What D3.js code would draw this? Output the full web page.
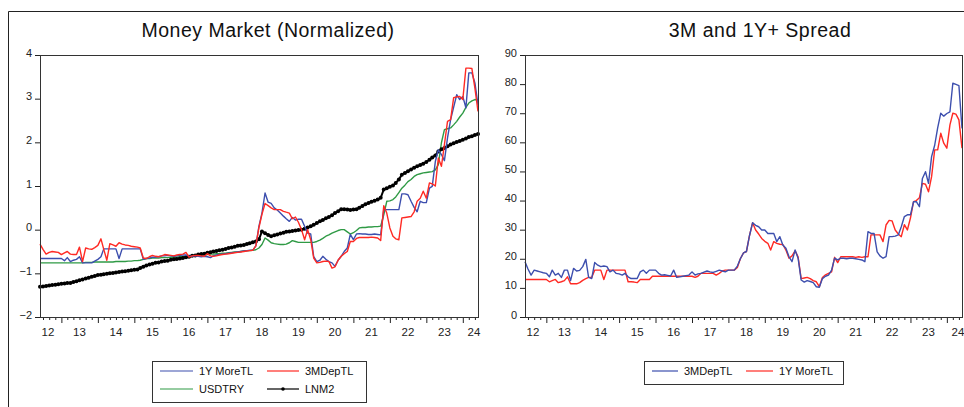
<!DOCTYPE html>
<html>
<head>
<meta charset="utf-8">
<script src="https://cdn.jsdelivr.net/npm/d3@7"></script>
<style>
  body { margin: 0; background: #fff; }
  svg { display: block; font-family: Arial, 'Liberation Sans', sans-serif; }
</style>
</head>
<body>
<div id="graf"></div>
<script>
// monthly observations, 2012M06 .. 2024M06
const dates = d3.timeMonth.range(new Date(2012, 5, 1), new Date(2024, 6, 1))
const yearLabels = ['12', '13', '14', '15', '16', '17', '18', '19', '20', '21', '22', '23', '24']

// ---- left panel: Money Market (Normalized)
const oneYMore = [
  -0.66, -0.66, -0.66, -0.66, -0.66, -0.66, -0.66,
  -0.66, -0.71, -0.64, -0.73, -0.70, -0.68, -0.62, -0.76, -0.76, -0.76, -0.76, -0.72,
  -0.68, -0.62, -0.44, -0.44, -0.44, -0.44, -0.44, -0.66, -0.44, -0.44, -0.44, -0.44,
  -0.44, -0.44, -0.44, -0.68, -0.66, -0.65, -0.63, -0.63, -0.62, -0.60, -0.60, -0.59,
  -0.60, -0.61, -0.60, -0.59, -0.58, -0.58, -0.60, -0.61, -0.60, -0.61, -0.62, -0.61,
  -0.62, -0.64, -0.60, -0.58, -0.57, -0.56, -0.55, -0.54, -0.53, -0.52, -0.51, -0.50,
  -0.49, -0.48, -0.47, -0.47, -0.37, 0.08, 0.38, 0.84, 0.63, 0.60, 0.50, 0.45,
  0.38, 0.31, 0.25, 0.19, 0.28, 0.22, 0.24, 0.24, 0.08, -0.08, -0.10, -0.62,
  -0.73, -0.70, -0.61, -0.68, -0.73, -0.76, -0.84, -0.70, -0.61, -0.50, -0.42, -0.11,
  -0.23, -0.10, -0.09, -0.10, -0.10, -0.11, -0.11, -0.10, -0.11, -0.12, 0.46, 0.46,
  0.46, 0.46, 0.46, 0.46, 0.82, 0.82, 0.80, 0.65, 0.51, 0.41, 0.65, 0.62,
  0.62, 0.95, 0.99, 1.56, 1.83, 1.72, 1.58, 2.10, 2.52, 2.80, 3.09, 2.98,
  3.05, 2.79, 3.59, 3.59, 3.36, 2.86
]
const threeMDep = [
  -0.33, -0.45, -0.56, -0.52, -0.50, -0.51, -0.52,
  -0.57, -0.53, -0.50, -0.56, -0.57, -0.57, -0.40, -0.73, -0.42, -0.44, -0.45, -0.41,
  -0.36, -0.21, -0.45, -0.70, -0.32, -0.35, -0.38, -0.30, -0.33, -0.35, -0.36, -0.38,
  -0.39, -0.40, -0.42, -0.65, -0.66, -0.62, -0.59, -0.61, -0.62, -0.60, -0.57, -0.58,
  -0.59, -0.60, -0.58, -0.57, -0.56, -0.52, -0.63, -0.60, -0.59, -0.59, -0.60, -0.61,
  -0.55, -0.60, -0.61, -0.60, -0.58, -0.57, -0.56, -0.55, -0.54, -0.53, -0.52, -0.51,
  -0.50, -0.49, -0.48, -0.47, -0.37, 0.05, 0.35, 0.60, 0.55, 0.50, 0.46, 0.46,
  0.46, 0.42, 0.40, 0.38, 0.25, 0.29, 0.17, 0.00, -0.23, 0.00, -0.23, -0.65,
  -0.76, -0.75, -0.73, -0.72, -0.73, -0.88, -0.85, -0.70, -0.61, -0.55, -0.50, -0.27,
  -0.27, -0.20, -0.18, -0.18, -0.18, -0.18, -0.17, -0.18, -0.19, -0.25, 0.55, 0.38,
  0.04, -0.15, -0.21, -0.23, 0.27, 0.28, 0.29, 0.30, 0.41, 0.65, 0.72, 0.88,
  0.72, 1.07, 1.05, 1.00, 1.64, 1.45, 1.95, 2.48, 2.52, 3.02, 3.04, 3.05,
  2.98, 3.70, 3.70, 3.69, 3.24, 2.71
]
const usdtry = [
  -0.76, -0.76, -0.76, -0.76, -0.76, -0.76, -0.76,
  -0.76, -0.76, -0.76, -0.76, -0.76, -0.76, -0.76, -0.76, -0.75, -0.75, -0.75, -0.74,
  -0.74, -0.74, -0.74, -0.74, -0.74, -0.74, -0.73, -0.73, -0.73, -0.73, -0.72, -0.72,
  -0.71, -0.71, -0.70, -0.68, -0.66, -0.66, -0.65, -0.65, -0.65, -0.64, -0.64, -0.64,
  -0.63, -0.63, -0.63, -0.62, -0.62, -0.62, -0.61, -0.60, -0.60, -0.59, -0.59, -0.58,
  -0.57, -0.56, -0.56, -0.55, -0.55, -0.54, -0.54, -0.53, -0.52, -0.51, -0.51, -0.50,
  -0.49, -0.48, -0.48, -0.47, -0.46, -0.42, -0.34, -0.19, -0.24, -0.30, -0.32, -0.33,
  -0.34, -0.34, -0.33, -0.30, -0.25, -0.27, -0.29, -0.29, -0.29, -0.29, -0.29, -0.29,
  -0.27, -0.24, -0.20, -0.15, -0.12, -0.08, -0.05, -0.02, 0.00, 0.00, -0.05, -0.10,
  -0.07, -0.02, 0.04, 0.05, 0.05, 0.06, 0.06, 0.07, 0.07, 0.08, 0.34, 0.65,
  0.66, 0.69, 0.75, 0.85, 0.95, 1.02, 1.10, 1.15, 1.22, 1.26, 1.28, 1.30,
  1.31, 1.32, 1.33, 1.37, 1.49, 1.99, 2.29, 2.31, 2.33, 2.40, 2.48, 2.58,
  2.67, 2.80, 2.90, 2.95, 2.98, 2.97
]
const lnm2 = [
  -1.31, -1.30, -1.29, -1.28, -1.27, -1.26, -1.25,
  -1.24, -1.23, -1.22, -1.22, -1.20, -1.18, -1.16, -1.14, -1.12, -1.10, -1.08, -1.06,
  -1.04, -1.03, -1.02, -1.01, -1.00, -0.99, -0.98, -0.97, -0.96, -0.95, -0.94, -0.93,
  -0.92, -0.91, -0.88, -0.85, -0.82, -0.80, -0.78, -0.76, -0.75, -0.73, -0.72, -0.71,
  -0.69, -0.68, -0.67, -0.66, -0.65, -0.63, -0.62, -0.60, -0.59, -0.57, -0.56, -0.55,
  -0.53, -0.52, -0.50, -0.49, -0.47, -0.46, -0.44, -0.42, -0.41, -0.39, -0.37, -0.36,
  -0.35, -0.33, -0.31, -0.29, -0.27, -0.22, -0.04, -0.08, -0.12, -0.15, -0.13, -0.11,
  -0.09, -0.07, -0.05, -0.04, -0.03, -0.02, -0.01, 0.00, 0.02, 0.05, 0.08, 0.11,
  0.15, 0.19, 0.22, 0.26, 0.29, 0.33, 0.38, 0.42, 0.47, 0.47, 0.46, 0.45,
  0.46, 0.47, 0.50, 0.54, 0.58, 0.61, 0.64, 0.66, 0.69, 0.73, 0.92, 0.95,
  0.98, 1.01, 1.07, 1.15, 1.26, 1.30, 1.34, 1.38, 1.42, 1.45, 1.48, 1.51,
  1.55, 1.60, 1.65, 1.70, 1.79, 1.84, 1.87, 1.91, 1.95, 1.98, 2.01, 2.03,
  2.06, 2.09, 2.12, 2.14, 2.17, 2.19
]

// ---- right panel: 3M and 1Y+ Spread
const spread3M = [
  19.0, 16.5, 14.4, 16.1, 15.8, 15.5, 15.2,
  15.0, 13.8, 16.1, 14.4, 15.0, 13.6, 16.1, 16.1, 12.5, 16.7, 15.8, 16.0,
  17.3, 19.8, 13.6, 13.2, 18.7, 17.8, 17.3, 17.5, 17.3, 15.5, 16.1, 15.0,
  14.8, 14.4, 15.0, 13.8, 13.2, 13.2, 13.2, 15.5, 16.1, 15.0, 16.1, 16.1,
  16.1, 15.0, 14.4, 14.5, 14.3, 14.1, 16.1, 13.6, 13.8, 14.0, 14.2, 14.4,
  15.5, 14.4, 14.8, 15.0, 15.4, 15.8, 15.5, 15.3, 15.7, 16.1, 15.8, 15.5,
  16.1, 16.1, 16.1, 17.5, 20.0, 22.0, 22.5, 28.0, 32.4, 31.5, 31.0, 29.9,
  29.9, 28.7, 28.7, 28.7, 25.9, 27.6, 24.7, 23.6, 20.7, 19.0, 23.0, 20.2,
  12.7, 12.0, 12.5, 12.2, 11.8, 10.4, 10.2, 13.2, 14.0, 14.4, 16.1, 20.2,
  19.6, 20.2, 20.2, 20.0, 20.2, 20.2, 20.0, 19.8, 19.6, 19.0, 29.3, 28.7,
  28.7, 22.4, 21.0, 20.2, 20.7, 27.6, 27.6, 27.8, 28.2, 31.0, 34.5, 35.1,
  35.1, 39.6, 39.6, 37.9, 47.6, 49.9, 45.9, 55.1, 59.0, 65.0, 70.0, 69.0,
  69.9, 70.5, 80.3, 79.9, 79.5, 64.8
]
const spread1Y = [
  12.9, 12.9, 12.9, 12.9, 12.9, 12.9, 12.9,
  12.9, 12.1, 12.5, 12.9, 11.8, 12.1, 12.5, 13.8, 11.4, 11.4, 11.4, 11.8,
  12.6, 13.2, 13.6, 13.6, 16.1, 16.1, 16.1, 12.9, 16.1, 16.1, 16.1, 16.1,
  16.1, 16.1, 16.1, 12.1, 12.1, 12.0, 11.8, 12.9, 12.9, 12.9, 12.9, 14.0,
  14.0, 14.0, 14.0, 14.0, 14.0, 14.0, 14.0, 14.0, 14.0, 14.0, 14.0, 14.0,
  14.0, 13.6, 14.0, 15.0, 15.0, 15.0, 15.0, 15.0, 14.4, 15.0, 15.8, 16.1,
  16.1, 16.1, 16.1, 17.0, 20.0, 22.0, 22.5, 28.0, 32.4, 29.9, 28.5, 27.0,
  26.0, 25.3, 23.0, 25.9, 25.3, 25.0, 24.9, 23.0, 20.2, 21.0, 22.7, 20.7,
  13.2, 13.4, 13.6, 13.2, 12.5, 12.1, 10.4, 13.6, 14.5, 15.0, 15.5, 20.5,
  18.7, 20.7, 20.7, 20.7, 20.7, 20.7, 20.5, 20.7, 20.5, 20.7, 20.7, 28.2,
  28.2, 28.2, 28.2, 25.9, 31.6, 33.2, 33.0, 29.9, 28.5, 27.6, 31.7, 29.9,
  34.0, 39.6, 40.0, 41.0, 45.9, 45.6, 43.0, 48.2, 57.4, 57.4, 63.1, 59.7,
  58.0, 66.0, 70.0, 69.7, 67.7, 58.0
]

const blue = '#3d4fae'
const red = '#ff2a24'
const green = '#2f9a45'

const anchoTotal = 964
const altoTotal = 407

const svg = d3.select('#graf')
  .append('svg')
  .attr('width', anchoTotal)
  .attr('height', altoTotal)

// outer frame of the figure
svg.append('path')
  .attr('d', 'M8.5,407 V11.5 H964')
  .attr('fill', 'none')
  .attr('stroke', '#222')
  .attr('stroke-width', 1)

function panel(cfg) {
  const x = d3.scaleTime()
    .domain([dates[0], dates[dates.length - 1]])
    .range([cfg.x0, cfg.x1])
  const y = d3.scaleLinear()
    .domain(cfg.domain)
    .range([cfg.y1, cfg.y0])

  const g = svg.append('g')

  // title
  g.append('text')
    .attr('x', cfg.titleX)
    .attr('y', 37)
    .attr('text-anchor', 'middle')
    .attr('font-size', '19.5px')
    .attr('letter-spacing', '0.5px')
    .attr('fill', '#111')
    .text(cfg.title)

  // y axis
  const yAxis = g.append('g')
    .attr('transform', `translate(${cfg.x0}, 0)`)
    .call(d3.axisLeft(y).tickValues(cfg.ticks).tickSize(5).tickPadding(3).tickFormat(d3.format('d')))
  yAxis.select('.domain').remove()
  yAxis.selectAll('line').attr('stroke', '#222')
  yAxis.selectAll('text')
    .attr('font-size', '11px')
    .attr('font-family', 'Arial, Liberation Sans, sans-serif')
    .attr('fill', '#222')
    .attr('dy', '0.1em')

  // x axis: a tick every two months, longer ticks at January
  const tickDates = d3.timeMonth.range(new Date(2012, 6, 1), new Date(2024, 6, 1), 2)
  const xAxis = g.append('g')
    .attr('transform', `translate(0, ${cfg.y1})`)
    .call(d3.axisBottom(x).tickValues(tickDates).tickSize(3).tickFormat(''))
  xAxis.select('.domain').remove()
  xAxis.selectAll('line')
    .attr('stroke', '#222')
    .attr('y2', d => d.getMonth() === 0 ? 6 : 3)

  // year labels centred on each year, kept inside the frame
  g.selectAll('.yr')
    .data(yearLabels)
    .enter()
    .append('text')
    .attr('class', 'yr')
    .attr('x', (d, i) => {
      const cx = x(new Date(2012 + i, 6, 1))
      return Math.max(cfg.x0 + 8, Math.min(cfg.x1 - 4, cx))
    })
    .attr('y', 336)
    .attr('text-anchor', 'middle')
    .attr('font-size', '11.5px')
    .attr('fill', '#222')
    .text(d => d)

  // series
  const line = d3.line()
    .x((d, i) => x(dates[i]))
    .y(d => y(d))

  cfg.series.forEach(s => {
    g.append('path')
      .datum(s.values)
      .attr('fill', 'none')
      .attr('stroke', s.color)
      .attr('stroke-width', s.width || 1.4)
      .attr('stroke-linejoin', 'round')
      .attr('d', line)
    if (s.marker) {
      g.selectAll(null)
        .data(s.values)
        .enter()
        .append('circle')
        .attr('cx', (d, i) => x(dates[i]))
        .attr('cy', d => y(d))
        .attr('r', 2)
        .attr('fill', s.color)
    }
  })

  // plot frame
  g.append('rect')
    .attr('x', cfg.x0 + 0.5)
    .attr('y', cfg.y0 + 0.5)
    .attr('width', cfg.x1 - cfg.x0)
    .attr('height', cfg.y1 - cfg.y0)
    .attr('fill', 'none')
    .attr('stroke', '#333')
    .attr('stroke-width', 1)

  // legend
  const lg = g.append('g')
  lg.append('rect')
    .attr('x', cfg.legend.x + 0.5)
    .attr('y', cfg.legend.y + 0.5)
    .attr('width', cfg.legend.w)
    .attr('height', cfg.legend.h)
    .attr('fill', '#fff')
    .attr('stroke', '#333')
  cfg.legend.items.forEach(it => {
    lg.append('line')
      .attr('x1', it.x)
      .attr('x2', it.x + it.len)
      .attr('y1', it.y)
      .attr('y2', it.y)
      .attr('stroke', it.color)
      .attr('stroke-width', 1.2)
    if (it.marker) {
      lg.append('circle')
        .attr('cx', it.x + it.len / 2)
        .attr('cy', it.y)
        .attr('r', 1.8)
        .attr('fill', it.color)
    }
    lg.append('text')
      .attr('x', it.x + it.len + 6)
      .attr('y', it.y + 4)
      .attr('font-size', '11px')
      .attr('fill', '#111')
      .text(it.label)
  })
}

panel({
  title: 'Money Market (Normalized)',
  titleX: 268,
  x0: 40, x1: 478, y0: 55, y1: 317,
  domain: [-2, 4],
  ticks: [-2, -1, 0, 1, 2, 3, 4],
  series: [
    { values: usdtry, color: green },
    { values: lnm2, color: '#000', width: 2, marker: true },
    { values: oneYMore, color: blue },
    { values: threeMDep, color: red },
  ],
  legend: {
    x: 152, y: 361, w: 214, h: 41,
    items: [
      { label: '1Y MoreTL', color: blue, x: 160, y: 371, len: 33 },
      { label: '3MDepTL', color: red, x: 267, y: 371, len: 32 },
      { label: 'USDTRY', color: green, x: 160, y: 389, len: 33 },
      { label: 'LNM2', color: '#000', x: 267, y: 389, len: 32, marker: true },
    ],
  },
})

panel({
  title: '3M and 1Y+ Spread',
  titleX: 760,
  x0: 525, x1: 962, y0: 55, y1: 317,
  domain: [0, 90],
  ticks: [0, 10, 20, 30, 40, 50, 60, 70, 80, 90],
  series: [
    { values: spread1Y, color: red },
    { values: spread3M, color: blue },
  ],
  legend: {
    x: 644, y: 361, w: 199, h: 23,
    items: [
      { label: '3MDepTL', color: blue, x: 652, y: 371, len: 26 },
      { label: '1Y MoreTL', color: red, x: 746, y: 371, len: 27 },
    ],
  },
})
</script>
</body>
</html>
